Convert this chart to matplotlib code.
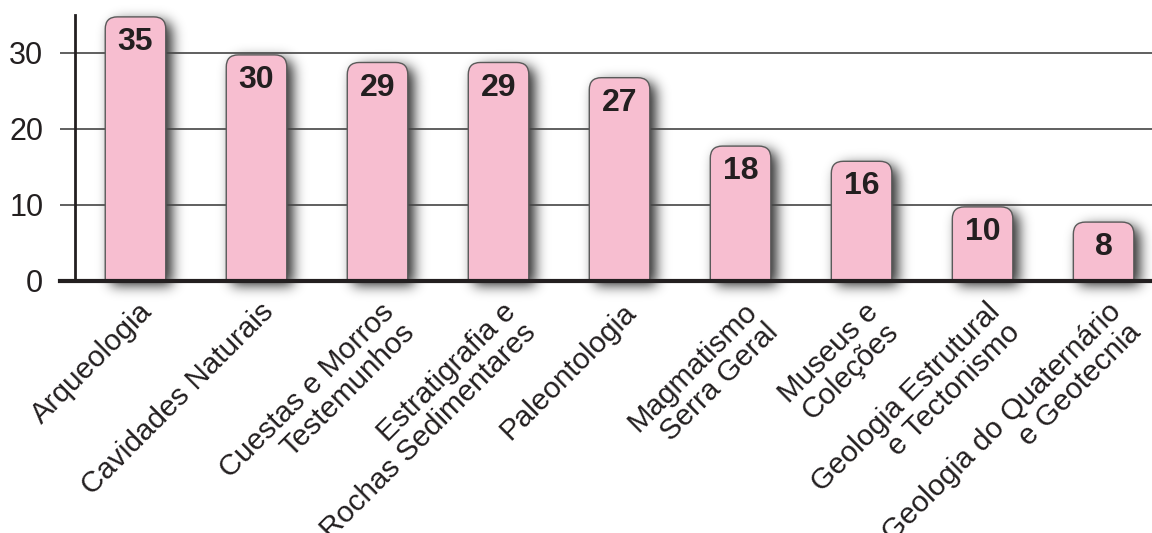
import numpy as np
import matplotlib
matplotlib.use("Agg")
import matplotlib.pyplot as plt
from matplotlib.patches import FancyBboxPatch

# chart data
categories = ["Arqueologia", "Cavidades Naturais", "Cuestas e Morros\nTestemunhos",
              "Estratigrafia e\nRochas Sedimentares", "Paleontologia",
              "Magmatismo\nSerra Geral", "Museus e\nColeções",
              "Geologia Estrutural\ne Tectonismo", "Geologia do Quaternário\ne Geotecnia"]
values = [35, 30, 29, 29, 27, 18, 16, 10, 8]
yticks = [0, 10, 20, 30]

pink = "#f7bed0"
dark = "#231f20"

plt.rcParams["font.family"] = ["Liberation Sans", "DejaVu Sans"]

W, H = 1152, 533
fig = plt.figure(figsize=(W / 100, H / 100), dpi=100)
ax = fig.add_axes([75 / W, (H - 281) / H, (W - 75) / W, (281 - 15) / H])
ax.set_facecolor("none")
ax.set_xlim(-0.5, 8.4)
ax.set_ylim(0, 35)

x = np.arange(len(values))
rects = ax.bar(x, values, width=0.5)

# pixels per data unit, used to get round corners on the bars
p0 = ax.transData.transform((0, 0))
px_x = ax.transData.transform((1, 0))[0] - p0[0]
px_y = ax.transData.transform((0, 1))[1] - p0[1]
aspect = px_x / px_y
r = 12 / px_x

bars = []
for rect in rects:
    rect.set_visible(False)
    fb = FancyBboxPatch((rect.get_x(), -3), rect.get_width(), rect.get_height() + 3 - 0.25,
                        boxstyle=f"round,pad=0,rounding_size={r}",
                        mutation_aspect=aspect, fc=pink, ec="#5a5a5a", lw=1, zorder=3)
    ax.add_patch(fb)
    bars.append(fb)

# soft drop shadow behind the bars (blurred mask)
yy, xx = np.mgrid[0:H, 0:W] + 0.5
pts = np.column_stack([xx.ravel(), yy.ravel()])
mask = np.zeros((H, W))
for fb in bars:
    path = fb.get_transform().transform_path(fb.get_path())
    mask[path.contains_points(pts).reshape(H, W)] = 1
mask[yy < p0[1]] = 0
dx, dy = 6, 4
shifted = np.zeros_like(mask)
shifted[:H - dy, dx:] = mask[dy:, :W - dx]
k = np.exp(-0.5 * (np.arange(-20, 21) / 6.5) ** 2)
k /= k.sum()
blur = np.apply_along_axis(lambda a: np.convolve(a, k, mode="same"), 1, shifted)
blur = np.apply_along_axis(lambda a: np.convolve(a, k, mode="same"), 0, blur)
rgba = np.zeros((H, W, 4))
rgba[..., 3] = np.clip(blur * 0.85, 0, 1)
fig.figimage(rgba, xo=0, yo=0, origin="lower", zorder=-1)

# value labels inside the bar tops
for rect, v in zip(rects, values):
    xc = rect.get_x() + rect.get_width() / 2
    ax.annotate(str(v), (xc, v), xytext=(0, -19.5), textcoords="offset points",
                ha="center", va="center", fontsize=23, fontweight="bold",
                color=dark, zorder=4)

# rotated category labels
for rect, cat in zip(rects, categories):
    xc = rect.get_x() + rect.get_width() / 2
    ax.annotate(cat, (xc, 0), xytext=(2.0, -12.0), textcoords="offset points",
                rotation=45, rotation_mode="anchor", ha="right", va="top",
                multialignment="right", fontsize=21.3, linespacing=1.03,
                color=dark, annotation_clip=False)

ax.set_xticks([])
ax.set_yticks(yticks)
ax.tick_params(axis="y", length=10.8, width=1.2, color="#444444",
               labelsize=22, pad=12, labelcolor=dark)
ax.yaxis.grid(True, color="#444444", lw=1.2)
ax.set_axisbelow(True)

for s in ["top", "right", "bottom"]:
    ax.spines[s].set_visible(False)
ax.spines["left"].set_linewidth(2)
ax.spines["left"].set_color(dark)

# baseline, running a bit left of the y axis like the tick marks
ax.plot([-15 / (W - 75), 1], [0, 0], transform=ax.get_yaxis_transform(),
        lw=3, color=dark, clip_on=False, zorder=5)

fig.savefig("out.png", dpi=100)
